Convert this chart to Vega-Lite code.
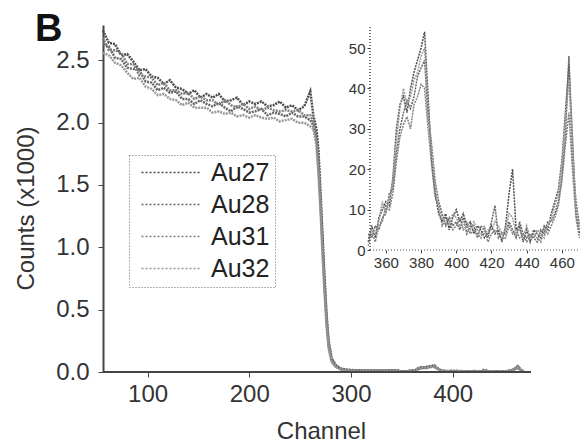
{
"$schema": "https://vega.github.io/schema/vega-lite/v6.json",
"width": 477, "height": 347,
"autosize": {"type": "none"},
"padding": {"left": 103, "top": 25, "right": 1, "bottom": 73},
"background": "white",
"title": {"text": "B", "anchor": "start", "frame": "group", "dx": -68, "dy": 59, "fontSize": 38, "fontWeight": "bold", "font": "Liberation Sans", "baseline": "alphabetic", "color": "#111111"},
"config": {"view": {"stroke": null}, "font": "Liberation Sans", "axis": {"grid": false, "labelColor": "#333333", "titleColor": "#333333", "tickColor": "#444444", "domainColor": "#444444"},
 "legend": {"orient": "none", "legendX": 26, "legendY": 130, "title": null, "labelFontSize": 25, "labelColor": "#222222", "symbolType": "M-0.5,0H5.5", "symbolSize": 400, "symbolStrokeWidth": 1.5, "symbolDash": [2, 2], "rowPadding": 6, "labelOffset": 52, "padding": 5, "strokeColor": "#666666", "direction": "vertical"}},
"data": {"values": [
{"channel":56,"series":"Au27","counts":2740},{"channel":62,"series":"Au27","counts":2640},{"channel":68,"series":"Au27","counts":2630},{"channel":74,"series":"Au27","counts":2540},{"channel":80,"series":"Au27","counts":2550},{"channel":86,"series":"Au27","counts":2490},{"channel":92,"series":"Au27","counts":2420},{"channel":98,"series":"Au27","counts":2430},{"channel":104,"series":"Au27","counts":2370},{"channel":110,"series":"Au27","counts":2360},{"channel":116,"series":"Au27","counts":2310},{"channel":122,"series":"Au27","counts":2340},{"channel":128,"series":"Au27","counts":2280},{"channel":134,"series":"Au27","counts":2270},{"channel":140,"series":"Au27","counts":2230},{"channel":146,"series":"Au27","counts":2260},{"channel":152,"series":"Au27","counts":2200},{"channel":158,"series":"Au27","counts":2230},{"channel":164,"series":"Au27","counts":2200},{"channel":170,"series":"Au27","counts":2230},{"channel":176,"series":"Au27","counts":2170},{"channel":182,"series":"Au27","counts":2180},{"channel":188,"series":"Au27","counts":2200},{"channel":194,"series":"Au27","counts":2140},{"channel":200,"series":"Au27","counts":2170},{"channel":206,"series":"Au27","counts":2150},{"channel":212,"series":"Au27","counts":2170},{"channel":218,"series":"Au27","counts":2130},{"channel":224,"series":"Au27","counts":2140},{"channel":230,"series":"Au27","counts":2170},{"channel":236,"series":"Au27","counts":2120},{"channel":242,"series":"Au27","counts":2140},{"channel":248,"series":"Au27","counts":2100},{"channel":254,"series":"Au27","counts":2130},{"channel":260,"series":"Au27","counts":2250},
{"channel":263,"series":"Au27","counts":2060},{"channel":266,"series":"Au27","counts":1950},{"channel":268,"series":"Au27","counts":1780},{"channel":270,"series":"Au27","counts":1450},{"channel":272,"series":"Au27","counts":1100},{"channel":274,"series":"Au27","counts":760},{"channel":276,"series":"Au27","counts":460},{"channel":278,"series":"Au27","counts":250},{"channel":281,"series":"Au27","counts":110},{"channel":285,"series":"Au27","counts":55},{"channel":290,"series":"Au27","counts":28},{"channel":296,"series":"Au27","counts":18},{"channel":305,"series":"Au27","counts":14},{"channel":315,"series":"Au27","counts":12},{"channel":325,"series":"Au27","counts":11},{"channel":335,"series":"Au27","counts":13},{"channel":345,"series":"Au27","counts":14},
{"channel":56,"series":"Au28","counts":2630},{"channel":62,"series":"Au28","counts":2610},{"channel":68,"series":"Au28","counts":2520},{"channel":74,"series":"Au28","counts":2510},{"channel":80,"series":"Au28","counts":2440},{"channel":86,"series":"Au28","counts":2430},{"channel":92,"series":"Au28","counts":2420},{"channel":98,"series":"Au28","counts":2330},{"channel":104,"series":"Au28","counts":2320},{"channel":110,"series":"Au28","counts":2260},{"channel":116,"series":"Au28","counts":2280},{"channel":122,"series":"Au28","counts":2240},{"channel":128,"series":"Au28","counts":2250},{"channel":134,"series":"Au28","counts":2190},{"channel":140,"series":"Au28","counts":2190},{"channel":146,"series":"Au28","counts":2150},{"channel":152,"series":"Au28","counts":2180},{"channel":158,"series":"Au28","counts":2150},{"channel":164,"series":"Au28","counts":2130},{"channel":170,"series":"Au28","counts":2160},{"channel":176,"series":"Au28","counts":2120},{"channel":182,"series":"Au28","counts":2090},{"channel":188,"series":"Au28","counts":2130},{"channel":194,"series":"Au28","counts":2110},{"channel":200,"series":"Au28","counts":2080},{"channel":206,"series":"Au28","counts":2090},{"channel":212,"series":"Au28","counts":2110},{"channel":218,"series":"Au28","counts":2060},{"channel":224,"series":"Au28","counts":2080},{"channel":230,"series":"Au28","counts":2070},{"channel":236,"series":"Au28","counts":2050},{"channel":242,"series":"Au28","counts":2080},{"channel":248,"series":"Au28","counts":2050},{"channel":254,"series":"Au28","counts":2050},{"channel":260,"series":"Au28","counts":2020},
{"channel":263,"series":"Au28","counts":1980},{"channel":266,"series":"Au28","counts":1880},{"channel":268,"series":"Au28","counts":1650},{"channel":270,"series":"Au28","counts":1350},{"channel":272,"series":"Au28","counts":1000},{"channel":274,"series":"Au28","counts":680},{"channel":276,"series":"Au28","counts":400},{"channel":278,"series":"Au28","counts":210},{"channel":281,"series":"Au28","counts":90},{"channel":285,"series":"Au28","counts":45},{"channel":290,"series":"Au28","counts":22},{"channel":296,"series":"Au28","counts":14},{"channel":305,"series":"Au28","counts":10},{"channel":315,"series":"Au28","counts":9},{"channel":325,"series":"Au28","counts":10},{"channel":335,"series":"Au28","counts":10},{"channel":345,"series":"Au28","counts":11},
{"channel":56,"series":"Au31","counts":2680},{"channel":62,"series":"Au31","counts":2580},{"channel":68,"series":"Au31","counts":2580},{"channel":74,"series":"Au31","counts":2560},{"channel":80,"series":"Au31","counts":2470},{"channel":86,"series":"Au31","counts":2470},{"channel":92,"series":"Au31","counts":2380},{"channel":98,"series":"Au31","counts":2370},{"channel":104,"series":"Au31","counts":2360},{"channel":110,"series":"Au31","counts":2300},{"channel":116,"series":"Au31","counts":2320},{"channel":122,"series":"Au31","counts":2260},{"channel":128,"series":"Au31","counts":2260},{"channel":134,"series":"Au31","counts":2230},{"channel":140,"series":"Au31","counts":2240},{"channel":146,"series":"Au31","counts":2190},{"channel":152,"series":"Au31","counts":2210},{"channel":158,"series":"Au31","counts":2180},{"channel":164,"series":"Au31","counts":2180},{"channel":170,"series":"Au31","counts":2140},{"channel":176,"series":"Au31","counts":2180},{"channel":182,"series":"Au31","counts":2140},{"channel":188,"series":"Au31","counts":2120},{"channel":194,"series":"Au31","counts":2150},{"channel":200,"series":"Au31","counts":2110},{"channel":206,"series":"Au31","counts":2130},{"channel":212,"series":"Au31","counts":2100},{"channel":218,"series":"Au31","counts":2120},{"channel":224,"series":"Au31","counts":2100},{"channel":230,"series":"Au31","counts":2090},{"channel":236,"series":"Au31","counts":2100},{"channel":242,"series":"Au31","counts":2090},{"channel":248,"series":"Au31","counts":2100},{"channel":254,"series":"Au31","counts":2060},{"channel":260,"series":"Au31","counts":2060},
{"channel":263,"series":"Au31","counts":2010},{"channel":266,"series":"Au31","counts":1900},{"channel":268,"series":"Au31","counts":1720},{"channel":270,"series":"Au31","counts":1400},{"channel":272,"series":"Au31","counts":1050},{"channel":274,"series":"Au31","counts":720},{"channel":276,"series":"Au31","counts":430},{"channel":278,"series":"Au31","counts":230},{"channel":281,"series":"Au31","counts":100},{"channel":285,"series":"Au31","counts":50},{"channel":290,"series":"Au31","counts":25},{"channel":296,"series":"Au31","counts":16},{"channel":305,"series":"Au31","counts":12},{"channel":315,"series":"Au31","counts":11},{"channel":325,"series":"Au31","counts":12},{"channel":335,"series":"Au31","counts":11},{"channel":345,"series":"Au31","counts":12},
{"channel":56,"series":"Au32","counts":2560},{"channel":62,"series":"Au32","counts":2540},{"channel":68,"series":"Au32","counts":2480},{"channel":74,"series":"Au32","counts":2460},{"channel":80,"series":"Au32","counts":2400},{"channel":86,"series":"Au32","counts":2350},{"channel":92,"series":"Au32","counts":2360},{"channel":98,"series":"Au32","counts":2290},{"channel":104,"series":"Au32","counts":2270},{"channel":110,"series":"Au32","counts":2220},{"channel":116,"series":"Au32","counts":2230},{"channel":122,"series":"Au32","counts":2190},{"channel":128,"series":"Au32","counts":2180},{"channel":134,"series":"Au32","counts":2140},{"channel":140,"series":"Au32","counts":2160},{"channel":146,"series":"Au32","counts":2120},{"channel":152,"series":"Au32","counts":2120},{"channel":158,"series":"Au32","counts":2120},{"channel":164,"series":"Au32","counts":2080},{"channel":170,"series":"Au32","counts":2090},{"channel":176,"series":"Au32","counts":2070},{"channel":182,"series":"Au32","counts":2080},{"channel":188,"series":"Au32","counts":2050},{"channel":194,"series":"Au32","counts":2060},{"channel":200,"series":"Au32","counts":2040},{"channel":206,"series":"Au32","counts":2060},{"channel":212,"series":"Au32","counts":2040},{"channel":218,"series":"Au32","counts":2030},{"channel":224,"series":"Au32","counts":2040},{"channel":230,"series":"Au32","counts":2010},{"channel":236,"series":"Au32","counts":2020},{"channel":242,"series":"Au32","counts":2030},{"channel":248,"series":"Au32","counts":2000},{"channel":254,"series":"Au32","counts":2000},{"channel":260,"series":"Au32","counts":1970},
{"channel":263,"series":"Au32","counts":1950},{"channel":266,"series":"Au32","counts":1820},{"channel":268,"series":"Au32","counts":1600},{"channel":270,"series":"Au32","counts":1300},{"channel":272,"series":"Au32","counts":950},{"channel":274,"series":"Au32","counts":640},{"channel":276,"series":"Au32","counts":370},{"channel":278,"series":"Au32","counts":190},{"channel":281,"series":"Au32","counts":80},{"channel":285,"series":"Au32","counts":40},{"channel":290,"series":"Au32","counts":20},{"channel":296,"series":"Au32","counts":12},{"channel":305,"series":"Au32","counts":9},{"channel":315,"series":"Au32","counts":8},{"channel":325,"series":"Au32","counts":8},{"channel":335,"series":"Au32","counts":9},{"channel":345,"series":"Au32","counts":10},
{"channel":350,"series":"Au27","counts":2},{"channel":352,"series":"Au27","counts":6},{"channel":354,"series":"Au27","counts":3},{"channel":356,"series":"Au27","counts":8},{"channel":358,"series":"Au27","counts":10},{"channel":360,"series":"Au27","counts":12},{"channel":362,"series":"Au27","counts":11},{"channel":364,"series":"Au27","counts":18},{"channel":366,"series":"Au27","counts":30},{"channel":368,"series":"Au27","counts":36},{"channel":370,"series":"Au27","counts":38},{"channel":372,"series":"Au27","counts":34},{"channel":374,"series":"Au27","counts":40},{"channel":376,"series":"Au27","counts":44},{"channel":378,"series":"Au27","counts":47},{"channel":380,"series":"Au27","counts":50},{"channel":382,"series":"Au27","counts":54},{"channel":384,"series":"Au27","counts":38},{"channel":386,"series":"Au27","counts":22},{"channel":388,"series":"Au27","counts":14},{"channel":390,"series":"Au27","counts":9},{"channel":392,"series":"Au27","counts":7},{"channel":394,"series":"Au27","counts":9},{"channel":396,"series":"Au27","counts":5},{"channel":398,"series":"Au27","counts":8},{"channel":400,"series":"Au27","counts":10},{"channel":402,"series":"Au27","counts":7},{"channel":404,"series":"Au27","counts":9},{"channel":406,"series":"Au27","counts":6},{"channel":408,"series":"Au27","counts":7},{"channel":410,"series":"Au27","counts":4},{"channel":412,"series":"Au27","counts":6},{"channel":414,"series":"Au27","counts":5},{"channel":416,"series":"Au27","counts":3},{"channel":418,"series":"Au27","counts":4},{"channel":420,"series":"Au27","counts":6},{"channel":422,"series":"Au27","counts":4},{"channel":424,"series":"Au27","counts":5},{"channel":426,"series":"Au27","counts":2},{"channel":428,"series":"Au27","counts":6},{"channel":430,"series":"Au27","counts":14},{"channel":432,"series":"Au27","counts":20},{"channel":434,"series":"Au27","counts":5},{"channel":436,"series":"Au27","counts":6},{"channel":438,"series":"Au27","counts":2},{"channel":440,"series":"Au27","counts":5},{"channel":442,"series":"Au27","counts":2},{"channel":444,"series":"Au27","counts":5},{"channel":446,"series":"Au27","counts":4},{"channel":448,"series":"Au27","counts":3},{"channel":450,"series":"Au27","counts":6},{"channel":452,"series":"Au27","counts":5},{"channel":454,"series":"Au27","counts":9},{"channel":456,"series":"Au27","counts":12},{"channel":458,"series":"Au27","counts":15},{"channel":460,"series":"Au27","counts":22},{"channel":462,"series":"Au27","counts":34},{"channel":464,"series":"Au27","counts":46},{"channel":466,"series":"Au27","counts":28},{"channel":468,"series":"Au27","counts":9},{"channel":470,"series":"Au27","counts":4},
{"channel":350,"series":"Au28","counts":4},{"channel":352,"series":"Au28","counts":3},{"channel":354,"series":"Au28","counts":6},{"channel":356,"series":"Au28","counts":5},{"channel":358,"series":"Au28","counts":8},{"channel":360,"series":"Au28","counts":9},{"channel":362,"series":"Au28","counts":14},{"channel":364,"series":"Au28","counts":15},{"channel":366,"series":"Au28","counts":24},{"channel":368,"series":"Au28","counts":30},{"channel":370,"series":"Au28","counts":34},{"channel":372,"series":"Au28","counts":37},{"channel":374,"series":"Au28","counts":35},{"channel":376,"series":"Au28","counts":38},{"channel":378,"series":"Au28","counts":43},{"channel":380,"series":"Au28","counts":45},{"channel":382,"series":"Au28","counts":47},{"channel":384,"series":"Au28","counts":33},{"channel":386,"series":"Au28","counts":26},{"channel":388,"series":"Au28","counts":17},{"channel":390,"series":"Au28","counts":12},{"channel":392,"series":"Au28","counts":9},{"channel":394,"series":"Au28","counts":6},{"channel":396,"series":"Au28","counts":8},{"channel":398,"series":"Au28","counts":6},{"channel":400,"series":"Au28","counts":7},{"channel":402,"series":"Au28","counts":5},{"channel":404,"series":"Au28","counts":8},{"channel":406,"series":"Au28","counts":4},{"channel":408,"series":"Au28","counts":6},{"channel":410,"series":"Au28","counts":6},{"channel":412,"series":"Au28","counts":3},{"channel":414,"series":"Au28","counts":6},{"channel":416,"series":"Au28","counts":5},{"channel":418,"series":"Au28","counts":3},{"channel":420,"series":"Au28","counts":7},{"channel":422,"series":"Au28","counts":11},{"channel":424,"series":"Au28","counts":3},{"channel":426,"series":"Au28","counts":4},{"channel":428,"series":"Au28","counts":4},{"channel":430,"series":"Au28","counts":7},{"channel":432,"series":"Au28","counts":5},{"channel":434,"series":"Au28","counts":3},{"channel":436,"series":"Au28","counts":7},{"channel":438,"series":"Au28","counts":4},{"channel":440,"series":"Au28","counts":3},{"channel":442,"series":"Au28","counts":4},{"channel":444,"series":"Au28","counts":3},{"channel":446,"series":"Au28","counts":2},{"channel":448,"series":"Au28","counts":5},{"channel":450,"series":"Au28","counts":4},{"channel":452,"series":"Au28","counts":7},{"channel":454,"series":"Au28","counts":7},{"channel":456,"series":"Au28","counts":9},{"channel":458,"series":"Au28","counts":12},{"channel":460,"series":"Au28","counts":18},{"channel":462,"series":"Au28","counts":28},{"channel":464,"series":"Au28","counts":48},{"channel":466,"series":"Au28","counts":22},{"channel":468,"series":"Au28","counts":12},{"channel":470,"series":"Au28","counts":6},
{"channel":350,"series":"Au31","counts":3},{"channel":352,"series":"Au31","counts":4},{"channel":354,"series":"Au31","counts":2},{"channel":356,"series":"Au31","counts":6},{"channel":358,"series":"Au31","counts":7},{"channel":360,"series":"Au31","counts":11},{"channel":362,"series":"Au31","counts":10},{"channel":364,"series":"Au31","counts":14},{"channel":366,"series":"Au31","counts":22},{"channel":368,"series":"Au31","counts":28},{"channel":370,"series":"Au31","counts":31},{"channel":372,"series":"Au31","counts":33},{"channel":374,"series":"Au31","counts":30},{"channel":376,"series":"Au31","counts":36},{"channel":378,"series":"Au31","counts":38},{"channel":380,"series":"Au31","counts":41},{"channel":382,"series":"Au31","counts":40},{"channel":384,"series":"Au31","counts":30},{"channel":386,"series":"Au31","counts":21},{"channel":388,"series":"Au31","counts":13},{"channel":390,"series":"Au31","counts":11},{"channel":392,"series":"Au31","counts":6},{"channel":394,"series":"Au31","counts":8},{"channel":396,"series":"Au31","counts":7},{"channel":398,"series":"Au31","counts":5},{"channel":400,"series":"Au31","counts":6},{"channel":402,"series":"Au31","counts":8},{"channel":404,"series":"Au31","counts":5},{"channel":406,"series":"Au31","counts":6},{"channel":408,"series":"Au31","counts":4},{"channel":410,"series":"Au31","counts":5},{"channel":412,"series":"Au31","counts":4},{"channel":414,"series":"Au31","counts":3},{"channel":416,"series":"Au31","counts":6},{"channel":418,"series":"Au31","counts":2},{"channel":420,"series":"Au31","counts":4},{"channel":422,"series":"Au31","counts":5},{"channel":424,"series":"Au31","counts":4},{"channel":426,"series":"Au31","counts":3},{"channel":428,"series":"Au31","counts":3},{"channel":430,"series":"Au31","counts":6},{"channel":432,"series":"Au31","counts":4},{"channel":434,"series":"Au31","counts":5},{"channel":436,"series":"Au31","counts":3},{"channel":438,"series":"Au31","counts":4},{"channel":440,"series":"Au31","counts":2},{"channel":442,"series":"Au31","counts":3},{"channel":444,"series":"Au31","counts":4},{"channel":446,"series":"Au31","counts":3},{"channel":448,"series":"Au31","counts":2},{"channel":450,"series":"Au31","counts":5},{"channel":452,"series":"Au31","counts":4},{"channel":454,"series":"Au31","counts":6},{"channel":456,"series":"Au31","counts":8},{"channel":458,"series":"Au31","counts":11},{"channel":460,"series":"Au31","counts":17},{"channel":462,"series":"Au31","counts":26},{"channel":464,"series":"Au31","counts":34},{"channel":466,"series":"Au31","counts":20},{"channel":468,"series":"Au31","counts":8},{"channel":470,"series":"Au31","counts":3},
{"channel":350,"series":"Au32","counts":1},{"channel":352,"series":"Au32","counts":5},{"channel":354,"series":"Au32","counts":4},{"channel":356,"series":"Au32","counts":7},{"channel":358,"series":"Au32","counts":12},{"channel":360,"series":"Au32","counts":9},{"channel":362,"series":"Au32","counts":13},{"channel":364,"series":"Au32","counts":17},{"channel":366,"series":"Au32","counts":27},{"channel":368,"series":"Au32","counts":35},{"channel":370,"series":"Au32","counts":40},{"channel":372,"series":"Au32","counts":36},{"channel":374,"series":"Au32","counts":38},{"channel":376,"series":"Au32","counts":42},{"channel":378,"series":"Au32","counts":44},{"channel":380,"series":"Au32","counts":48},{"channel":382,"series":"Au32","counts":50},{"channel":384,"series":"Au32","counts":36},{"channel":386,"series":"Au32","counts":25},{"channel":388,"series":"Au32","counts":16},{"channel":390,"series":"Au32","counts":10},{"channel":392,"series":"Au32","counts":8},{"channel":394,"series":"Au32","counts":7},{"channel":396,"series":"Au32","counts":6},{"channel":398,"series":"Au32","counts":9},{"channel":400,"series":"Au32","counts":8},{"channel":402,"series":"Au32","counts":6},{"channel":404,"series":"Au32","counts":6},{"channel":406,"series":"Au32","counts":7},{"channel":408,"series":"Au32","counts":5},{"channel":410,"series":"Au32","counts":7},{"channel":412,"series":"Au32","counts":5},{"channel":414,"series":"Au32","counts":4},{"channel":416,"series":"Au32","counts":4},{"channel":418,"series":"Au32","counts":5},{"channel":420,"series":"Au32","counts":5},{"channel":422,"series":"Au32","counts":7},{"channel":424,"series":"Au32","counts":6},{"channel":426,"series":"Au32","counts":4},{"channel":428,"series":"Au32","counts":5},{"channel":430,"series":"Au32","counts":9},{"channel":432,"series":"Au32","counts":8},{"channel":434,"series":"Au32","counts":4},{"channel":436,"series":"Au32","counts":5},{"channel":438,"series":"Au32","counts":3},{"channel":440,"series":"Au32","counts":6},{"channel":442,"series":"Au32","counts":3},{"channel":444,"series":"Au32","counts":3},{"channel":446,"series":"Au32","counts":5},{"channel":448,"series":"Au32","counts":4},{"channel":450,"series":"Au32","counts":3},{"channel":452,"series":"Au32","counts":6},{"channel":454,"series":"Au32","counts":8},{"channel":456,"series":"Au32","counts":11},{"channel":458,"series":"Au32","counts":14},{"channel":460,"series":"Au32","counts":21},{"channel":462,"series":"Au32","counts":32},{"channel":464,"series":"Au32","counts":42},{"channel":466,"series":"Au32","counts":26},{"channel":468,"series":"Au32","counts":11},{"channel":470,"series":"Au32","counts":5}
]},
"layer": [
 {"layer": [
  {"mark": {"type": "line", "strokeWidth": 2.5, "strokeDash": [2, 1]},
   "encoding": {
    "x": {"field": "channel", "type": "quantitative", "scale": {"domain": [56.2, 525.2], "nice": false, "zero": false},
          "axis": {"values": [100, 200, 300, 400], "domain": false, "labelFontSize": 24, "tickSize": 5, "labelPadding": 5, "title": "Channel", "titleFontSize": 24, "titleFontWeight": "normal", "titleX": 218, "titleY": 66, "titleBaseline": "alphabetic"}},
    "y": {"field": "counts", "type": "quantitative", "scale": {"domain": [0, 2783], "nice": false},
          "axis": {"values": [0, 500, 1000, 1500, 2000, 2500], "labelExpr": "format(datum.value/1000, '.1f')", "labelFontSize": 24, "tickSize": 5, "labelPadding": 9, "domainWidth": 2, "title": "Counts (x1000)", "titleFontSize": 24, "titleFontWeight": "normal", "titleX": -70, "titleY": 183, "titleBaseline": "alphabetic"}},
    "color": {"field": "series", "type": "nominal", "scale": {"domain": ["Au27", "Au28", "Au31", "Au32"], "range": ["#4d4d4d", "#666666", "#808080", "#999999"]},
              "legend": {"encode": {"legend": {"update": {"strokeDash": {"value": [1, 2]}}}}}}
   }},
  {"data": {"values": [{}]}, "mark": {"type": "rule", "color": "#444444", "strokeWidth": 2},
   "encoding": {"x": {"datum": 56.2, "type": "quantitative"}, "x2": {"datum": 477}, "y": {"datum": 0, "type": "quantitative"}}}
 ]},
 {"transform": [{"filter": "datum.channel >= 349"}],
  "layer": [
  {"mark": {"type": "line", "strokeWidth": 1.5, "strokeDash": [2, 1]},
   "encoding": {
    "x": {"field": "channel", "type": "quantitative", "scale": {"domain": [199.3, 470.3], "nice": false, "zero": false},
          "axis": {"orient": "bottom", "offset": -122, "values": [360, 380, 400, 420, 440, 460], "domain": false, "labelFontSize": 15, "tickSize": 3, "labelPadding": 2, "title": null}},
    "y": {"field": "counts", "type": "quantitative", "scale": {"domain": [-30.2, 55.7], "nice": false, "zero": false},
          "axis": {"orient": "left", "offset": -267, "values": [0, 10, 20, 30, 40, 50], "domain": false, "labelFontSize": 15, "tickSize": 3, "labelPadding": 2, "title": null}},
    "color": {"field": "series", "type": "nominal"}
   }},
  {"data": {"values": [{}]}, "mark": {"type": "rule", "color": "#444444", "strokeWidth": 1, "strokeDash": [1, 2]},
   "encoding": {"x": {"datum": 351, "type": "quantitative"}, "x2": {"datum": 470.3}, "y": {"datum": 0, "type": "quantitative"}}},
  {"data": {"values": [{}]}, "mark": {"type": "rule", "color": "#444444", "strokeWidth": 1.5, "strokeDash": [1, 2]},
   "encoding": {"x": {"datum": 351, "type": "quantitative"}, "y": {"datum": 0, "type": "quantitative"}, "y2": {"datum": 55.7}}}
 ]}
],
"resolve": {"scale": {"x": "independent", "y": "independent"}, "axis": {"x": "independent", "y": "independent"}}
}
